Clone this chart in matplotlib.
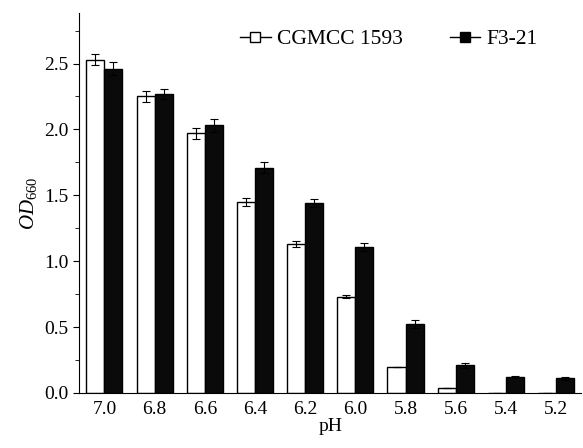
import numpy as np
import matplotlib.pyplot as plt
from matplotlib.lines import Line2D
from matplotlib.ticker import MultipleLocator

plt.rcParams['font.family'] = ['Liberation Serif', 'DejaVu Serif']
plt.rcParams['mathtext.fontset'] = 'custom'
plt.rcParams['mathtext.rm'] = 'Liberation Serif'
plt.rcParams['mathtext.it'] = 'Liberation Serif:italic'

ph = ['7.0', '6.8', '6.6', '6.4', '6.2', '6.0', '5.8', '5.6', '5.4', '5.2']
cgmcc = [2.53, 2.25, 1.97, 1.45, 1.13, 0.73, 0.20, 0.04, 0.0, 0.0]
cgmcc_err = [0.04, 0.04, 0.04, 0.03, 0.02, 0.01, 0.0, 0.0, 0.0, 0.0]
f321 = [2.46, 2.27, 2.03, 1.71, 1.44, 1.11, 0.52, 0.21, 0.12, 0.11]
f321_err = [0.05, 0.04, 0.05, 0.04, 0.03, 0.03, 0.03, 0.02, 0.01, 0.01]

x = np.arange(len(ph))
w = 0.36

fig, ax = plt.subplots(figsize=(5.83, 4.48), dpi=100)
fig.subplots_adjust(left=0.136, right=0.997, top=0.97, bottom=0.123)

ax.bar(x - w / 2, cgmcc, w, color='white', edgecolor='black', linewidth=1,
       yerr=cgmcc_err, capsize=3, error_kw=dict(elinewidth=0.8, capthick=0.8))
ax.bar(x + w / 2, f321, w, color='#0a0a0a', edgecolor='black', linewidth=1,
       yerr=f321_err, capsize=3, error_kw=dict(elinewidth=0.8, capthick=0.8))

ax.set_xlim(-0.5, 9.5)
ax.set_ylim(0, 2.88)
ax.set_xticks(x)
ax.set_xticklabels(ph)
ax.tick_params(axis='x', length=0, labelsize=14, pad=6)
ax.yaxis.set_major_locator(MultipleLocator(0.5))
ax.yaxis.set_minor_locator(MultipleLocator(0.25))
ax.yaxis.set_major_formatter(plt.FormatStrFormatter('%.1f'))
ax.tick_params(axis='y', which='major', length=4, labelsize=14)
ax.tick_params(axis='y', which='minor', length=3)
ax.spines['top'].set_visible(False)
ax.spines['right'].set_visible(False)

ax.set_xlabel('pH', fontsize=14, labelpad=0)
ax.set_ylabel('$OD_{660}$', fontsize=15, labelpad=4)

handles = [
    Line2D([], [], color='black', lw=1, marker='s', markersize=6.5,
           markerfacecolor='white', markeredgecolor='black'),
    Line2D([], [], color='black', lw=1, marker='s', markersize=6.5,
           markerfacecolor='black', markeredgecolor='black'),
]
ax.legend(handles, ['CGMCC 1593', 'F3-21'], ncol=2, frameon=False,
          fontsize=15.5, loc='center left', bbox_to_anchor=(0.321, 0.932),
          handlelength=1.4, handletextpad=0.3, columnspacing=2.2,
          borderpad=0, borderaxespad=0)

fig.savefig('out.png')
